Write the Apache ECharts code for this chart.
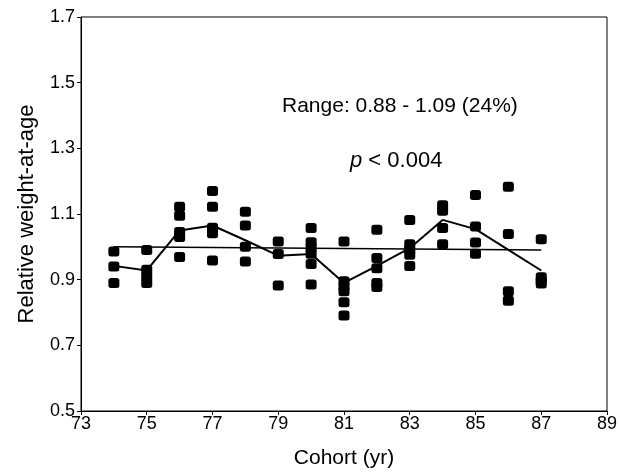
<!DOCTYPE html>
<html lang="en">
<head>
    <meta charset="UTF-8">
    <title>Relative weight-at-age by cohort</title>
    <script src="https://cdn.jsdelivr.net/npm/echarts@6.0.0/dist/echarts.min.js"></script>
    <style>
        * {
            margin: 0;
            padding: 0;
        }

        body {
            background: #fff;
        }

        #chart {
            width: 620px;
            height: 474px;
        }
    </style>
</head>
<body>
<div id="chart"></div>

<script>
    // cohort years and the single observations for each year
    var cohorts = [74, 75, 76, 77, 78, 79, 80, 81, 82, 83, 84, 85, 86, 87];
    var observations = [
        [0.986, 0.94, 0.89],
        [0.99, 0.93, 0.91, 0.89],
        [1.122, 1.095, 1.045, 1.03, 0.969],
        [1.17, 1.122, 1.058, 1.041, 0.958],
        [1.107, 1.065, 1.0, 0.955],
        [1.016, 0.978, 0.882],
        [1.057, 1.014, 0.997, 0.979, 0.948, 0.885],
        [1.016, 0.895, 0.88, 0.865, 0.831, 0.791],
        [1.052, 0.966, 0.935, 0.89, 0.878],
        [1.082, 1.008, 0.99, 0.976, 0.942],
        [1.127, 1.11, 1.057, 1.008],
        [1.158, 1.062, 1.013, 0.979],
        [1.183, 1.039, 0.865, 0.836],
        [1.023, 0.907, 0.897, 0.888]
    ];
    // mean per cohort (the joined line)
    var cohortMeans = [0.942, 0.928, 1.05, 1.065, 1.02, 0.973, 0.978, 0.89, 0.942, 0.996, 1.082, 1.054, 0.991, 0.928];
    // fitted trend, start and end
    var trendX = [74, 87];
    var trendY = [1.0, 0.99];

    var xTicks = [73, 75, 77, 79, 81, 83, 85, 87, 89];
    var yTicks = [0.5, 0.7, 0.9, 1.1, 1.3, 1.5, 1.7];

    var font = "'Liberation Sans', Arial, sans-serif";

    var points = [];
    cohorts.forEach(function (year, i) {
        observations[i].forEach(function (v) {
            points.push([year, v]);
        });
    });

    var chart = echarts.init(document.getElementById('chart'));
    var option = {
        backgroundColor: '#fff',
        animation: false,
        grid: {
            left: 81,
            right: 13,
            top: 17,
            bottom: 62,
            show: true,
            borderColor: '#000',
            borderWidth: 1
        },
        xAxis: {
            type: 'value',
            min: xTicks[0],
            max: xTicks[xTicks.length - 1],
            interval: 2,
            name: 'Cohort (yr)',
            nameLocation: 'middle',
            nameGap: 37,
            nameTextStyle: {color: '#000', fontSize: 21, fontFamily: font},
            axisLine: {lineStyle: {color: '#000', width: 1}},
            axisTick: {length: 4, lineStyle: {color: '#000'}},
            axisLabel: {color: '#000', fontSize: 18, fontFamily: font, margin: 4},
            splitLine: {show: false}
        },
        yAxis: {
            type: 'value',
            min: yTicks[0],
            max: yTicks[yTicks.length - 1],
            interval: 0.2,
            name: 'Relative weight-at-age',
            nameLocation: 'middle',
            nameGap: 43,
            nameTextStyle: {color: '#000', fontSize: 22, fontFamily: font},
            axisLine: {lineStyle: {color: '#000', width: 1}},
            axisTick: {length: 4, lineStyle: {color: '#000'}},
            axisLabel: {
                color: '#000', fontSize: 18, fontFamily: font, margin: 6,
                formatter: function (v) {
                    return v.toFixed(1);
                }
            },
            splitLine: {show: false}
        },
        graphic: [
            {
                type: 'text',
                x: 282,
                y: 106,
                style: {
                    text: 'Range: 0.88 - 1.09 (24%)',
                    font: '21px ' + font,
                    fill: '#000',
                    textVerticalAlign: 'middle'
                }
            },
            {
                type: 'text',
                x: 350,
                y: 161,
                style: {
                    text: '{i|p} < 0.004',
                    font: '22px ' + font,
                    fill: '#000',
                    textVerticalAlign: 'middle',
                    rich: {
                        i: {fontStyle: 'italic', fontSize: 22, fontFamily: font, fill: '#000'}
                    }
                }
            }
        ],
        series: [
            {
                name: 'trend',
                type: 'line',
                data: trendX.map(function (x, i) {
                    return [x, trendY[i]];
                }),
                symbol: 'none',
                lineStyle: {color: '#000', width: 1.5}
            },
            {
                name: 'mean',
                type: 'line',
                data: cohorts.map(function (x, i) {
                    return [x, cohortMeans[i]];
                }),
                symbol: 'none',
                lineStyle: {color: '#000', width: 2}
            },
            {
                name: 'observed',
                type: 'scatter',
                data: points,
                symbol: 'roundRect',
                symbolSize: [11, 10],
                itemStyle: {color: '#000', opacity: 1}
            }
        ]
    };
    chart.setOption(option);
</script>
</body>
</html>
